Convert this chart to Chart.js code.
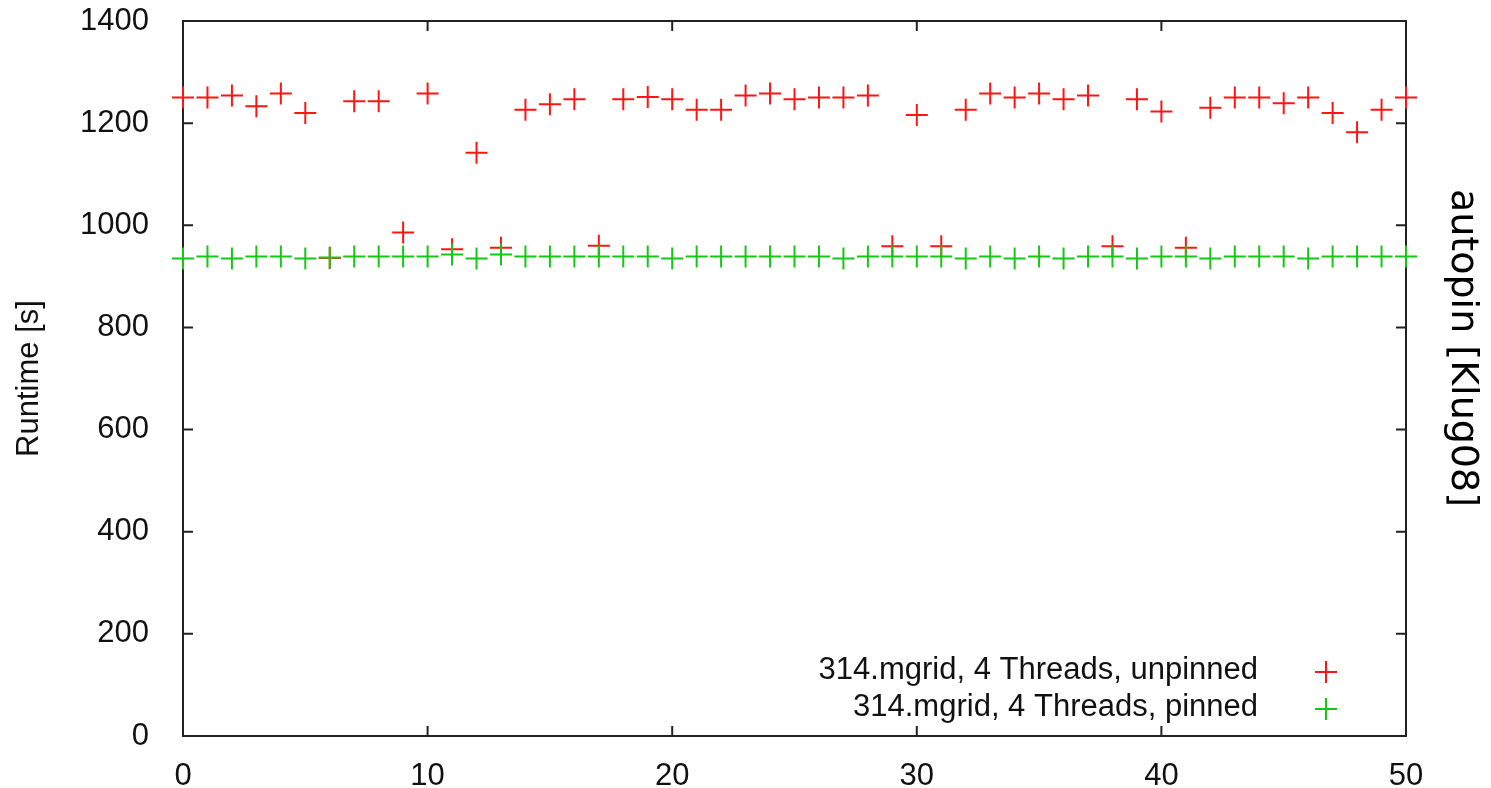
<!DOCTYPE html>
<html>
<head>
<meta charset="utf-8">
<script src="https://cdn.jsdelivr.net/npm/chart.js@4.4.1/dist/chart.umd.min.js"></script>
<style>
  body { margin: 0; background: #fff; }
  canvas { display: block; }
</style>
</head>
<body>
<canvas id="autopin-chart" width="1491" height="788"></canvas>
<script>
// run number (x) and runtime in seconds (y)
const runs = [0, 1, 2, 3, 4, 5, 6, 7, 8, 9, 10, 11, 12, 13, 14, 15, 16, 17, 18, 19, 20,
    21, 22, 23, 24, 25, 26, 27, 28, 29, 30, 31, 32, 33, 34, 35, 36, 37, 38, 39, 40,
    41, 42, 43, 44, 45, 46, 47, 48, 49, 50];
const unpinned = [1250, 1250, 1254, 1233, 1258, 1220, 936, 1243, 1243, 986, 1258, 953, 1142, 956, 1226, 1237, 1247, 960, 1247, 1251, 1247,
    1226, 1226, 1254, 1258, 1247, 1250, 1250, 1254, 959, 1216, 959, 1226, 1258, 1250, 1258, 1247, 1254, 959, 1247, 1223,
    956, 1230, 1250, 1250, 1239, 1250, 1220, 1182, 1226, 1250];
const pinned = [935, 939, 935, 939, 939, 935, 937, 939, 939, 939, 939, 943, 935, 943, 939, 939, 939, 939, 939, 939, 935,
    939, 939, 939, 939, 939, 939, 935, 939, 939, 939, 939, 935, 939, 935, 939, 935, 939, 939, 935, 939,
    939, 935, 939, 939, 939, 935, 939, 939, 939, 939];
const seriesNames = ['314.mgrid, 4 Threads, unpinned', '314.mgrid, 4 Threads, pinned'];
const yTicks = [0, 200, 400, 600, 800, 1000, 1200, 1400];
const xTicks = [0, 10, 20, 30, 40, 50];

const RED = 'rgb(255, 20, 20)';
const GREEN = 'rgb(20, 200, 20)';
const FONT = 'Liberation Sans, Arial, sans-serif';

const toPoints = (xs, ys) => xs.map((x, i) => ({ x: x, y: ys[i] }));

// border box with gnuplot style inward ticks, mirrored on top and right
const frame = {
    id: 'frame',
    beforeDatasetsDraw(chart) {
        const { ctx, chartArea: a, scales } = chart;
        ctx.save();
        ctx.strokeStyle = '#222';
        ctx.lineWidth = 2;
        ctx.strokeRect(a.left, a.top, a.right - a.left, a.bottom - a.top);
        ctx.beginPath();
        scales.x.ticks.forEach(t => {
            const px = scales.x.getPixelForValue(t.value);
            ctx.moveTo(px, a.bottom); ctx.lineTo(px, a.bottom - 10);
            ctx.moveTo(px, a.top); ctx.lineTo(px, a.top + 10);
        });
        scales.y.ticks.forEach(t => {
            const py = scales.y.getPixelForValue(t.value);
            ctx.moveTo(a.left, py); ctx.lineTo(a.left + 10, py);
            ctx.moveTo(a.right, py); ctx.lineTo(a.right - 10, py);
        });
        ctx.stroke();
        ctx.restore();
    }
};

// key in the lower right corner: text first, sample cross on the right
const key = {
    id: 'key',
    afterDraw(chart) {
        const { ctx, chartArea: a } = chart;
        const ds = chart.data.datasets;
        ctx.save();
        ctx.font = '31px ' + FONT;
        ctx.fillStyle = '#111';
        ctx.textAlign = 'right';
        ctx.textBaseline = 'middle';
        [unpinned, pinned].forEach((_, i) => {
            const d = ds[i];
            const rowY = a.bottom - 66 + i * 37;
            ctx.fillText(d.label, a.right - 148, rowY);
            ctx.strokeStyle = d.borderColor;
            Chart.helpers.drawPoint(ctx, { pointStyle: 'cross', radius: 11, borderWidth: 2, rotation: 0 }, a.right - 80, rowY + 2);
        });

        // side caption
        ctx.translate(1462, 348);
        ctx.rotate(Math.PI / 2);
        ctx.font = '38px DejaVu Sans, sans-serif';
        ctx.fillStyle = '#000';
        ctx.textAlign = 'center';
        ctx.fillText('autopin [Klug08]', 0, 0);
        ctx.restore();
    }
};

new Chart(document.getElementById('autopin-chart'), {
    type: 'scatter',
    data: {
        datasets: [
            {
                label: seriesNames[0],
                data: toPoints(runs, unpinned),
                borderColor: RED,
                backgroundColor: RED,
                pointStyle: 'cross',
                pointRadius: 11,
                pointHoverRadius: 11,
                borderWidth: 2,
                order: 2,
                clip: false
            },
            {
                label: seriesNames[1],
                data: toPoints(runs, pinned),
                borderColor: GREEN,
                backgroundColor: GREEN,
                pointStyle: 'cross',
                pointRadius: 11,
                pointHoverRadius: 11,
                borderWidth: 2,
                order: 1,
                clip: false
            }
        ]
    },
    options: {
        responsive: false,
        animation: false,
        layout: { padding: { top: 21, right: 85, left: 0, bottom: 0 } },
        plugins: {
            legend: { display: false },
            tooltip: { enabled: false }
        },
        scales: {
            x: {
                type: 'linear',
                min: 0,
                max: 50,
                afterBuildTicks: s => { s.ticks = xTicks.map(v => ({ value: v })); },
                afterFit: s => { s.height = 52; s.paddingLeft = 0; s.paddingRight = 0; },
                grid: { display: false },
                border: { display: false },
                ticks: { color: '#111', font: { size: 31, family: FONT }, padding: 14, maxRotation: 0,
                    callback: v => String(v) }
            },
            y: {
                type: 'linear',
                min: 0,
                max: 1400,
                afterBuildTicks: s => { s.ticks = yTicks.map(v => ({ value: v })); },
                afterFit: s => { s.width = 183; s.paddingTop = 0; s.paddingBottom = 0; },
                grid: { display: false },
                border: { display: false },
                ticks: { color: '#111', font: { size: 31, family: FONT }, padding: 26,
                    callback: v => String(v) },
                title: {
                    display: true,
                    text: 'Runtime [s]',
                    color: '#111',
                    font: { size: 31, family: FONT },
                    padding: { top: 11, bottom: 0 }
                }
            }
        }
    },
    plugins: [frame, key]
});
</script>
</body>
</html>
